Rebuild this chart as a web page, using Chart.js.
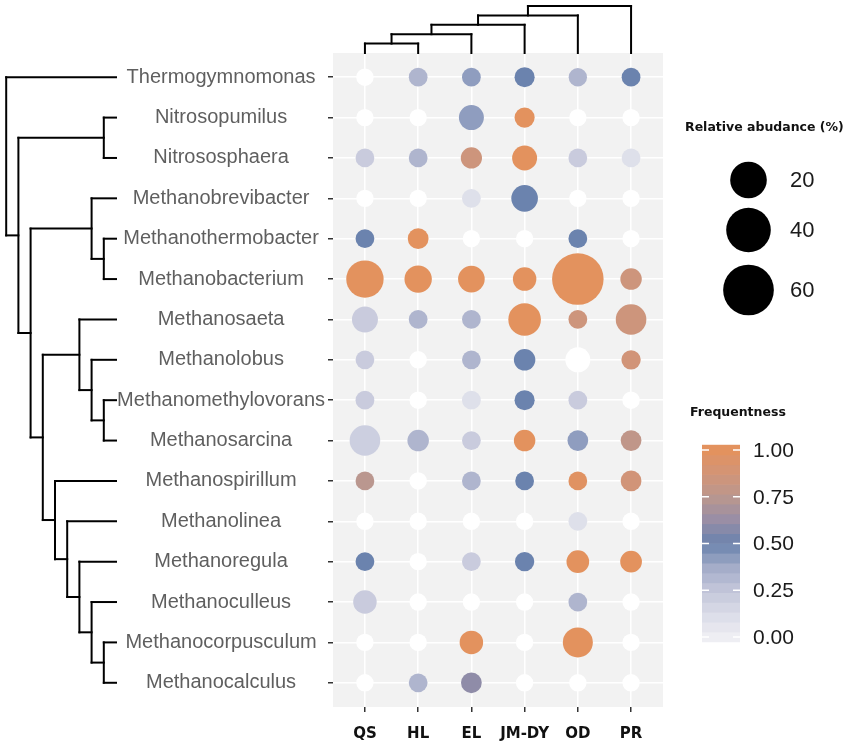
<!DOCTYPE html>
<html>
<head>
<meta charset="utf-8">
<script src="https://cdn.jsdelivr.net/npm/chart.js@4.4.1/dist/chart.umd.min.js"></script>
<style>
html, body { margin: 0; padding: 0; background: #fff; }
#wrap { width: 851px; height: 745px; }
</style>
</head>
<body>
<div id="wrap"><canvas id="bubble"></canvas></div>
<script>
const samples = ['QS', 'HL', 'EL', 'JM-DY', 'OD', 'PR'];
const genera = ['Thermogymnomonas', 'Nitrosopumilus', 'Nitrososphaera', 'Methanobrevibacter',
  'Methanothermobacter', 'Methanobacterium', 'Methanosaeta', 'Methanolobus',
  'Methanomethylovorans', 'Methanosarcina', 'Methanospirillum', 'Methanolinea',
  'Methanoregula', 'Methanoculleus', 'Methanocorpusculum', 'Methanocalculus'];

// relative abundance (%) per genus, columns in samples order
const abundance = [
  [0, 0.1, 0.1, 0.4, 0.05, 0.1],
  [0, 0, 3.1, 0.4, 0, 0],
  [0.1, 0.1, 0.8, 3.1, 0.1, 0.1],
  [0, 0, 0.1, 4.6, 0, 0],
  [0.1, 0.6, 0, 0, 0.1, 0],
  [21.6, 5.4, 4.6, 2.0, 63, 0.9],
  [4.0, 0.1, 0.1, 12.5, 0.1, 9.4],
  [0.1, 0, 0.1, 0.9, 3.1, 0.2],
  [0.1, 0, 0.1, 0.4, 0.1, 0],
  [9.4, 0.9, 0.1, 0.9, 0.6, 0.6],
  [0.1, 0, 0.1, 0.1, 0.1, 0.6],
  [0, 0, 0, 0, 0.1, 0],
  [0.1, 0, 0.1, 0.2, 1.5, 1.0],
  [2.0, 0, 0, 0, 0.1, 0],
  [0, 0, 2.0, 0, 8.6, 0],
  [0, 0.1, 0.6, 0, 0, 0]
];

// frequentness (null = not found, drawn white)
const frequentness = [
  [null, 0.33, 0.42, 0.5, 0.33, 0.5],
  [null, null, 0.42, 1.0, null, null],
  [0.22, 0.33, 0.85, 1.0, 0.22, 0.1],
  [null, null, 0.1, 0.5, null, null],
  [0.5, 1.0, null, null, 0.5, null],
  [1.0, 1.0, 1.0, 1.0, 1.0, 0.85],
  [0.22, 0.33, 0.33, 1.0, 0.85, 0.85],
  [0.22, null, 0.33, 0.5, null, 0.87],
  [0.22, null, 0.1, 0.5, 0.22, null],
  [0.2, 0.33, 0.22, 1.0, 0.42, 0.78],
  [0.75, null, 0.33, 0.5, 0.98, 0.87],
  [null, null, null, null, 0.1, null],
  [0.5, null, 0.22, 0.5, 1.0, 1.0],
  [0.22, null, null, null, 0.33, null],
  [null, null, 1.0, null, 1.0, null],
  [null, 0.33, 0.6, null, null, null]
];

const sizeBreaks = [20, 40, 60];
const colourTicks = [0, 0.25, 0.5, 0.75, 1];

// clustering trees: leaves are indexes, h = merge height
const rowTree = {h: 9, c: [0, {h: 8, c: [{h: 1, c: [1, 2]}, {h: 7, c: [
  {h: 2, c: [3, {h: 1, c: [4, 5]}]},
  {h: 6, c: [
    {h: 3, c: [6, {h: 2, c: [7, {h: 1, c: [8, 9]}]}]},
    {h: 5, c: [10, {h: 4, c: [11, {h: 3, c: [12, {h: 2, c: [13, {h: 1, c: [14, 15]}]}]}]}]}
  ]}
]}]}]};
const colTree = {h: 5, c: [{h: 4, c: [{h: 3, c: [{h: 2, c: [{h: 1, c: [0, 1]}, 2]}, 3]}, 4]}, 5]};

const ramp = [[0, '#eeeef3'], [0.125, '#dadce8'], [0.25, '#c3c6da'], [0.375, '#a3acc8'],
  [0.5, '#6b83ae'], [0.625, '#988ea6'], [0.75, '#ba978f'], [0.875, '#d29477'], [1, '#e3925e']];

function hexRgb(h) { return [1, 3, 5].map(i => parseInt(h.substr(i, 2), 16)); }
function colourFor(f) {
  if (f === null || f === undefined) return '#ffffff';
  for (let i = 1; i < ramp.length; i++) {
    if (f <= ramp[i][0]) {
      const t = (f - ramp[i - 1][0]) / (ramp[i][0] - ramp[i - 1][0]);
      const a = hexRgb(ramp[i - 1][1]), b = hexRgb(ramp[i][1]);
      return 'rgb(' + a.map((v, k) => Math.round(v + (b[k] - v) * t)).join(',') + ')';
    }
  }
  return ramp[ramp.length - 1][1];
}
function radiusFor(v) { return 8.7 + 2.15 * Math.sqrt(v); }

const points = [];
genera.forEach((g, i) => samples.forEach((s, j) => {
  points.push({x: j, y: i, a: abundance[i][j], f: frequentness[i][j]});
}));

function walk(ctx, node, leafPx, hPx, seg) {
  if (typeof node === 'number') return {p: leafPx(node), h: 0};
  const kids = node.c.map(k => walk(ctx, k, leafPx, hPx, seg));
  kids.forEach(k => seg(k.p, hPx(k.h), k.p, hPx(node.h)));
  seg(kids[0].p, hPx(node.h), kids[1].p, hPx(node.h));
  return {p: (kids[0].p + kids[1].p) / 2, h: node.h};
}

const extras = {
  id: 'extras',
  beforeDraw(chart) {
    const {ctx, chartArea: a} = chart;
    ctx.save();
    ctx.fillStyle = '#f2f2f2';
    ctx.fillRect(a.left, a.top, a.right - a.left, a.bottom - a.top);
    ctx.restore();
  },
  afterDraw(chart) {
    const {ctx, chartArea: a, scales} = chart;
    ctx.save();
    ctx.strokeStyle = '#000';
    ctx.lineWidth = 2;
    ctx.lineCap = 'square';
    // row dendrogram
    walk(ctx, rowTree, i => scales.y.getPixelForValue(i), h => 116 - h * 12.2, (p1, h1, p2, h2) => {
      ctx.beginPath(); ctx.moveTo(h1, p1); ctx.lineTo(h2, p2); ctx.stroke();
    });
    // column dendrogram
    walk(ctx, colTree, j => scales.x.getPixelForValue(j), h => a.top - h * 9.4, (p1, h1, p2, h2) => {
      ctx.beginPath(); ctx.moveTo(p1, h1); ctx.lineTo(p2, h2); ctx.stroke();
    });

    // size legend
    ctx.fillStyle = '#111';
    ctx.font = 'bold 12.5px "DejaVu Sans"';
    ctx.textBaseline = 'middle';
    ctx.textAlign = 'left';
    ctx.fillText('Relative abudance (%)', 685, 128);
    const sizeY = [180, 230, 290];
    sizeBreaks.forEach((v, k) => {
      ctx.fillStyle = '#000';
      ctx.beginPath();
      ctx.arc(748.5, sizeY[k], radiusFor(v), 0, Math.PI * 2);
      ctx.fill();
      ctx.fillStyle = '#1a1a1a';
      ctx.font = '22px "Liberation Sans"';
      ctx.fillText(String(v), 790, sizeY[k] + 1);
    });

    // colour bar
    ctx.fillStyle = '#111';
    ctx.font = 'bold 12.5px "DejaVu Sans"';
    ctx.fillText('Frequentness', 690, 413);
    const barX = 702, barW = 38, y0 = 637, y1 = 450, nbin = 20;
    const step = (y0 - y1) / (nbin - 1);
    for (let b = 0; b < nbin; b++) {
      const v = b / (nbin - 1);
      const yc = y0 - v * (y0 - y1);
      ctx.fillStyle = colourFor(v);
      ctx.fillRect(barX, yc - step / 2 - 0.3, barW, step + 0.6);
    }
    ctx.strokeStyle = '#fff';
    ctx.lineWidth = 1.5;
    ctx.lineCap = 'butt';
    colourTicks.forEach(t => {
      const y = y0 - t * (y0 - y1);
      ctx.beginPath();
      ctx.moveTo(barX, y); ctx.lineTo(barX + 7, y);
      ctx.moveTo(barX + barW - 7, y); ctx.lineTo(barX + barW, y);
      ctx.stroke();
      ctx.fillStyle = '#1a1a1a';
      ctx.font = '21px "Liberation Sans"';
      ctx.fillText(t.toFixed(2), 753, y + 1);
    });
    ctx.restore();
  }
};

const ctx = document.getElementById('bubble').getContext('2d');
const chart = new Chart(ctx, {
  type: 'bubble',
  data: {
    datasets: [{
      data: points,
      borderWidth: 0,
      hoverBorderWidth: 0,
      backgroundColor: c => colourFor(c.raw ? c.raw.f : null),
      hoverBackgroundColor: c => colourFor(c.raw ? c.raw.f : null),
      radius: c => c.raw ? radiusFor(c.raw.a) : 9,
      hoverRadius: 0
    }]
  },
  plugins: [extras],
  options: {
    responsive: true,
    maintainAspectRatio: false,
    animation: false,
    events: [],
    layout: {padding: {left: 0, right: 188, top: 53, bottom: 0}},
    plugins: {legend: {display: false}, tooltip: {enabled: false}},
    scales: {
      x: {
        type: 'linear',
        min: -0.6,
        max: 5.6,
        afterBuildTicks: s => { s.ticks = samples.map((n, j) => ({value: j})); },
        afterFit: s => { s.height = 38; },
        grid: {color: '#ffffff', lineWidth: 1.5, tickLength: 5, tickColor: '#333', tickWidth: 1.5},
        border: {display: false},
        ticks: {
          autoSkip: false,
          maxRotation: 0,
          padding: 13,
          color: '#111',
          font: {family: 'DejaVu Sans', size: 15, weight: 'bold'},
          callback: v => samples[v]
        }
      },
      y: {
        type: 'linear',
        min: -0.6,
        max: 15.6,
        reverse: true,
        afterBuildTicks: s => { s.ticks = genera.map((n, i) => ({value: i})); },
        afterFit: s => { s.width = 333; },
        grid: {color: '#ffffff', lineWidth: 1.5, tickLength: 5, tickColor: '#333', tickWidth: 1.5},
        border: {display: false},
        ticks: {
          autoSkip: false,
          padding: 3,
          crossAlign: 'center',
          color: '#5f5f5f',
          font: {family: 'Liberation Sans', size: 20},
          callback: v => genera[v]
        }
      }
    }
  }
});
</script>
</body>
</html>
